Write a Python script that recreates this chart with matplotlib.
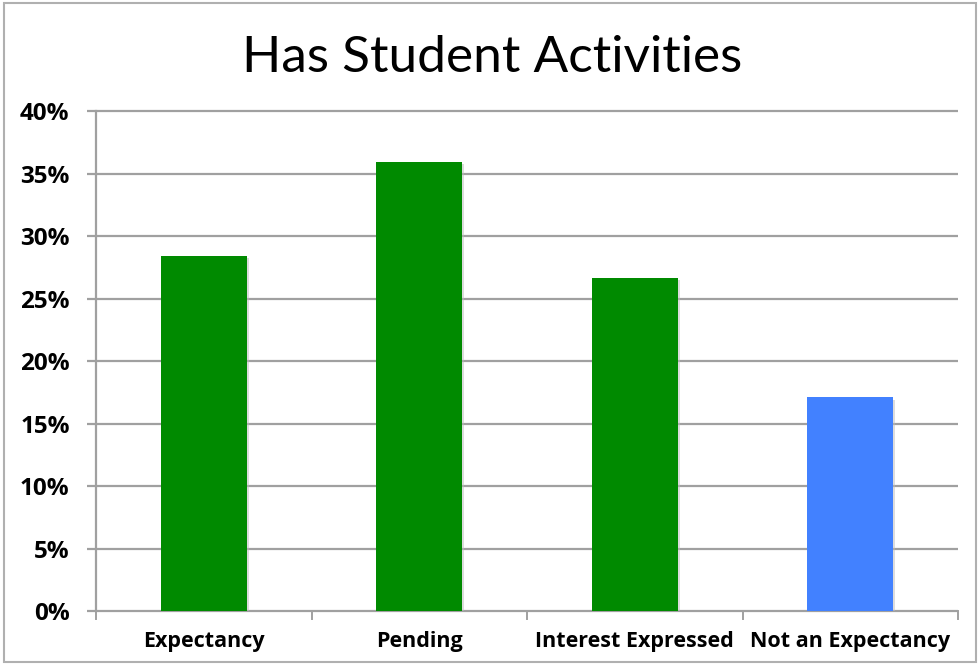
import matplotlib
matplotlib.use("Agg")
import matplotlib.pyplot as plt
import matplotlib.patheffects as pe
import numpy as np
from matplotlib.patches import Rectangle

categories = ["Expectancy", "Pending", "Interest Expressed", "Not an Expectancy"]
values = [28.4, 35.9, 26.65, 17.1]
colors = ["#008a00", "#008a00", "#008a00", "#4281ff"]
yticks = [0, 5, 10, 15, 20, 25, 30, 35, 40]

W, H = 979, 665
fig = plt.figure(figsize=(W / 100, H / 100), dpi=100)
ax = fig.add_axes([96 / W, 1 - 611.3 / H, (958 - 96) / W, (611.3 - 111) / H])

x = np.arange(len(categories))
shadow = [pe.SimplePatchShadow(offset=(1.5, -1.5), shadow_rgbFace="#bbbbbb", alpha=0.5), pe.Normal()]
bars = ax.bar(x, values, width=0.40, color=colors, zorder=3)
for b in bars:
    b.set_path_effects(shadow)

ax.set_xlim(-0.5, len(categories) - 0.5)
ax.set_ylim(0, 40)

# horizontal grid lines, extended a bit left of the axis like tick marks
for t in yticks:
    ax.plot([-0.5 - 9 / 216, len(categories) - 0.5], [t, t], color="#a0a0a0",
            lw=1.6, zorder=1, clip_on=False, solid_capstyle="butt")

ax.set_yticks(yticks)
ax.set_yticklabels([f"{t}%" for t in yticks], fontfamily="Open Sans",
                   fontweight="bold", fontsize=17.5)
ax.tick_params(axis="y", length=0, pad=19)

ax.set_xticks(x)
ax.set_xticklabels(categories, fontfamily="Open Sans", fontweight="bold", fontsize=15.5)
ax.tick_params(axis="x", length=0, pad=14)

# separators between categories along the baseline
for b in np.arange(len(categories) + 1) - 0.5:
    ax.plot([b, b], [0, -0.65], color="#a0a0a0", lw=1.4, clip_on=False, zorder=1)

for s in ["top", "right", "bottom"]:
    ax.spines[s].set_visible(False)
ax.spines["left"].set_color("#a0a0a0")
ax.spines["left"].set_linewidth(1.6)

fig.text(492 / W, 1 - 58 / H, "Has Student Activities", ha="center", va="center",
         fontfamily="Lato", fontsize=37)

# outer frame
fig.patches.append(Rectangle((4 / W, 3 / H), (976 - 4) / W, (662 - 3) / H,
                             transform=fig.transFigure, fill=False,
                             edgecolor="#b0b0b0", lw=1.5))

fig.savefig("out.png", dpi=100)
